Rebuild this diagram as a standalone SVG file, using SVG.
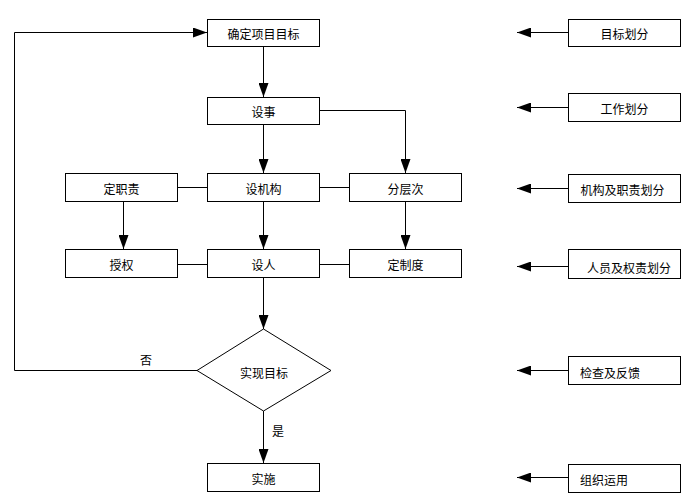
<svg xmlns="http://www.w3.org/2000/svg" width="691" height="496" viewBox="0 0 691 496">
<style>
.box{fill:#fff;stroke:#000;stroke-width:1}
.t{font-family:"Noto Sans CJK SC","Liberation Sans",sans-serif;font-size:12px;fill:#000;dominant-baseline:central}
.c{text-anchor:middle}
.ln{fill:none;stroke:#000;stroke-width:1}
</style>
<defs>
<marker id="ah" markerUnits="userSpaceOnUse" markerWidth="14" markerHeight="10" refX="14" refY="5" orient="auto">
<path d="M0,0 L14,5 L0,10 z" fill="#000"/>
</marker>
</defs>
<rect width="691" height="496" fill="#fff"/>
<g id="connectors">
<path class="ln" d="M263.5,46 V97" marker-end="url(#ah)"/>
<path class="ln" d="M263.5,124 V173" marker-end="url(#ah)"/>
<path class="ln" d="M320,110.5 H405.5 V173" marker-end="url(#ah)"/>
<path class="ln" d="M177,187.5 H207"/>
<path class="ln" d="M320,187.5 H349"/>
<path class="ln" d="M123.5,202 V249" marker-end="url(#ah)"/>
<path class="ln" d="M263.5,202 V249" marker-end="url(#ah)"/>
<path class="ln" d="M405.5,202 V249" marker-end="url(#ah)"/>
<path class="ln" d="M177,264.5 H207"/>
<path class="ln" d="M320,264.5 H349"/>
<path class="ln" d="M263.5,278 V329" marker-end="url(#ah)"/>
<path class="ln" d="M263.5,411 V463" marker-end="url(#ah)"/>
<path class="ln" d="M197,370.5 H14.5 V32.5 H207" marker-end="url(#ah)"/>
<path class="ln" d="M568,32.5 H517" marker-end="url(#ah)"/>
<path class="ln" d="M568,107.5 H517" marker-end="url(#ah)"/>
<path class="ln" d="M568,188.5 H517" marker-end="url(#ah)"/>
<path class="ln" d="M568,266.5 H517" marker-end="url(#ah)"/>
<path class="ln" d="M568,370.5 H517" marker-end="url(#ah)"/>
<path class="ln" d="M568,477.5 H517" marker-end="url(#ah)"/>
<text class="t c" x="146" y="359">否</text>
<text class="t c" x="278" y="430">是</text>
</g>
<g id="n1"><rect class="box" x="207.5" y="19.5" width="112" height="27"/><text class="t c" x="263.5" y="33">确定项目目标</text></g>
<g id="n2"><rect class="box" x="207.5" y="97.5" width="112" height="27"/><text class="t c" x="263.5" y="111">设事</text></g>
<g id="n3"><rect class="box" x="65.5" y="173.5" width="112" height="28"/><text class="t c" x="121.5" y="188">定职责</text></g>
<g id="n4"><rect class="box" x="207.5" y="173.5" width="112" height="28"/><text class="t c" x="263.5" y="188">设机构</text></g>
<g id="n5"><rect class="box" x="349.5" y="173.5" width="112" height="28"/><text class="t c" x="405.5" y="188">分层次</text></g>
<g id="n6"><rect class="box" x="65.5" y="249.5" width="112" height="28"/><text class="t c" x="121.5" y="264">授权</text></g>
<g id="n7"><rect class="box" x="207.5" y="249.5" width="112" height="28"/><text class="t c" x="263.5" y="264">设人</text></g>
<g id="n8"><rect class="box" x="349.5" y="249.5" width="112" height="28"/><text class="t c" x="405.5" y="264">定制度</text></g>
<g id="n9"><path class="box" d="M263.5,329 L331,370.5 L263.5,411 L197,370.5 Z"/><text class="t c" x="264" y="372">实现目标</text></g>
<g id="n10"><rect class="box" x="207.5" y="463.5" width="112" height="28"/><text class="t c" x="263.5" y="478">实施</text></g>
<g id="r1"><rect class="box" x="568.5" y="19.5" width="112" height="27"/><text class="t c" x="624.5" y="33">目标划分</text></g>
<g id="r2"><rect class="box" x="568.5" y="93.5" width="112" height="28"/><text class="t c" x="624.5" y="108">工作划分</text></g>
<g id="r3"><rect class="box" x="568.5" y="174.5" width="112" height="28"/><text class="t c" x="622.5" y="189">机构及职责划分</text></g>
<g id="r4"><rect class="box" x="568.5" y="249.5" width="112" height="29"/><text class="t c" x="629" y="267">人员及权责划分</text></g>
<g id="r5"><rect class="box" x="568.5" y="356.5" width="112" height="28"/><text class="t" x="580" y="372">检查及反馈</text></g>
<g id="r6"><rect class="box" x="568.5" y="464.5" width="112" height="28"/><text class="t" x="580" y="479">组织运用</text></g>
</svg>
